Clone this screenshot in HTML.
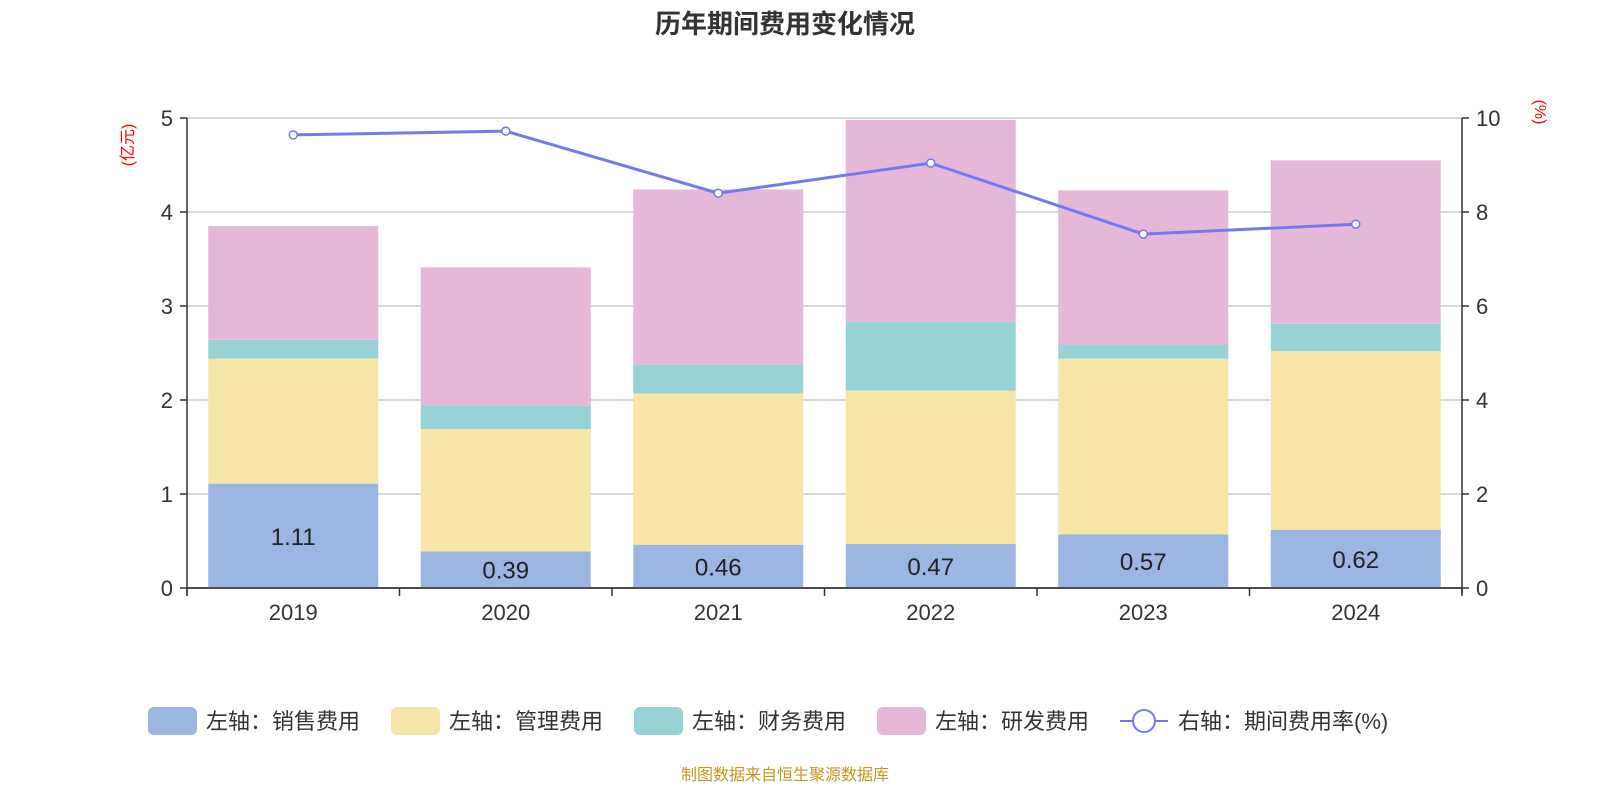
<!DOCTYPE html>
<html><head><meta charset="utf-8"><style>
body{margin:0;background:#fff;}
svg text{font-family:"Liberation Sans","Noto Sans CJK SC",sans-serif;}
</style></head><body>
<svg id="c" width="1600" height="800" xmlns="http://www.w3.org/2000/svg">
<text x="785" y="33" text-anchor="middle" font-size="26" font-weight="bold" fill="#333">历年期间费用变化情况</text>
<text transform="translate(133,145) rotate(-90)" text-anchor="middle" font-size="16" fill="#f00">(亿元)</text>
<text transform="translate(1535,112) rotate(90)" text-anchor="middle" font-size="16" fill="#f00">(%)</text>
<g id="grid"></g><g id="bars"></g><g id="axes"></g><g id="line"></g><g id="legend"></g>
<text x="785" y="780" text-anchor="middle" font-size="16" fill="#c8961e">制图数据来自恒生聚源数据库</text>
</svg>
<script>
const years=["2019","2020","2021","2022","2023","2024"];
const sales=[1.11,0.39,0.46,0.47,0.57,0.62];
const mgmt=[1.33,1.30,1.61,1.63,1.87,1.90];
const fin=[0.20,0.25,0.31,0.73,0.15,0.29];
const rd=[1.21,1.47,1.86,2.15,1.64,1.74];
const rate=[9.64,9.72,8.40,9.04,7.53,7.74];
const leftTicks=[0,1,2,3,4,5];
const rightTicks=[0,2,4,6,8,10];
const NS="http://www.w3.org/2000/svg";
const X0=187,X1=1462,Y0=588,Y1=118;
const bw=(X1-X0)/years.length;
const yL=v=>Y0-(Y0-Y1)*v/5, yR=v=>Y0-(Y0-Y1)*v/10, xc=i=>X0+bw*(i+0.5);
function mk(t,a,p){const e=document.createElementNS(NS,t);for(const k in a)e.setAttribute(k,a[k]);document.getElementById(p).appendChild(e);return e;}
leftTicks.forEach(v=>{
 const g=mk("line",{x1:X0,x2:X1,y1:yL(v),y2:yL(v),stroke:v?"#ccc":"#333","stroke-width":v?1.5:1.5},"grid");
 
 
 const t=mk("text",{x:X0-14,y:yL(v)+8,"text-anchor":"end","font-size":22,fill:"#333"},"axes");t.textContent=v;
 
 
 mk("line",{x1:X0-7,x2:X0,y1:yL(v),y2:yL(v),stroke:"#333","stroke-width":1.5},"axes");
});
rightTicks.forEach(v=>{
 const t=mk("text",{x:X1+14,y:yR(v)+8,"font-size":22,fill:"#333"},"axes");t.textContent=v;
 
 
 mk("line",{x1:X1,x2:X1+7,y1:yR(v),y2:yR(v),stroke:"#333","stroke-width":1.5},"axes");
});
mk("line",{x1:X0,x2:X0,y1:Y1,y2:Y0+7,stroke:"#333","stroke-width":1.5},"axes");
mk("line",{x1:X1,x2:X1,y1:Y1,y2:Y0+7,stroke:"#333","stroke-width":1.5},"axes");
const series=[[sales,"#9bb6e0","sales"],[mgmt,"#f7e6a8","mgmt"],[fin,"#97d3d4","finance"],[rd,"#e6b8d8","rd"]];
years.forEach((y,i)=>{
 let base=0;
 series.forEach(([arr,col,nm])=>{
  const r=mk("rect",{x:xc(i)-85,width:170,y:yL(base+arr[i]),height:yL(base)-yL(base+arr[i]),fill:col},"bars");
  
  
  base+=arr[i];
 });
 const lb=mk("text",{x:xc(i),y:(yL(0)+yL(sales[i]))/2+9,"text-anchor":"middle","font-size":24,fill:"#222"},"bars");lb.textContent=sales[i].toFixed(2);
 
 
 const t=mk("text",{x:xc(i),y:620,"text-anchor":"middle","font-size":22,fill:"#333"},"axes");t.textContent=y;
 
 
});
for(let i=0;i<=years.length;i++)mk("line",{x1:X0+bw*i,x2:X0+bw*i,y1:Y0,y2:Y0+8,stroke:"#333","stroke-width":1.5},"axes");
mk("line",{x1:X0,x2:X1,y1:Y0,y2:Y0,stroke:"#333","stroke-width":1.5},"axes");
const pl=mk("polyline",{points:rate.map((v,i)=>xc(i)+","+yR(v)).join(" "),fill:"none",stroke:"#7479f0","stroke-width":3},"line");


rate.forEach((v,i)=>{const c=mk("circle",{cx:xc(i),cy:yR(v),r:4,fill:"#fff",stroke:"#7479f0","stroke-width":1.5},"line");
 
 });
const leg=[["左轴：销售费用","#9bb6e0",148],["左轴：管理费用","#f7e6a8",391],["左轴：财务费用","#97d3d4",634],["左轴：研发费用","#e6b8d8",877]];
leg.forEach(([t,c,x])=>{
 const r=mk("rect",{x:x,y:707,width:49,height:28,rx:6,fill:c},"legend");
 
 
 const tx=mk("text",{x:x+58,y:729,"font-size":22,fill:"#333"},"legend");tx.textContent=t;
 
 
});
mk("line",{x1:1120,x2:1168,y1:721,y2:721,stroke:"#7479f0","stroke-width":2},"legend");
mk("circle",{cx:1144,cy:721,r:11,fill:"#fff",stroke:"#7479f0","stroke-width":2},"legend");
const lt=mk("text",{x:1178,y:729,"font-size":22,fill:"#333"},"legend");lt.textContent="右轴：期间费用率(%)";


</script>
</body></html>
